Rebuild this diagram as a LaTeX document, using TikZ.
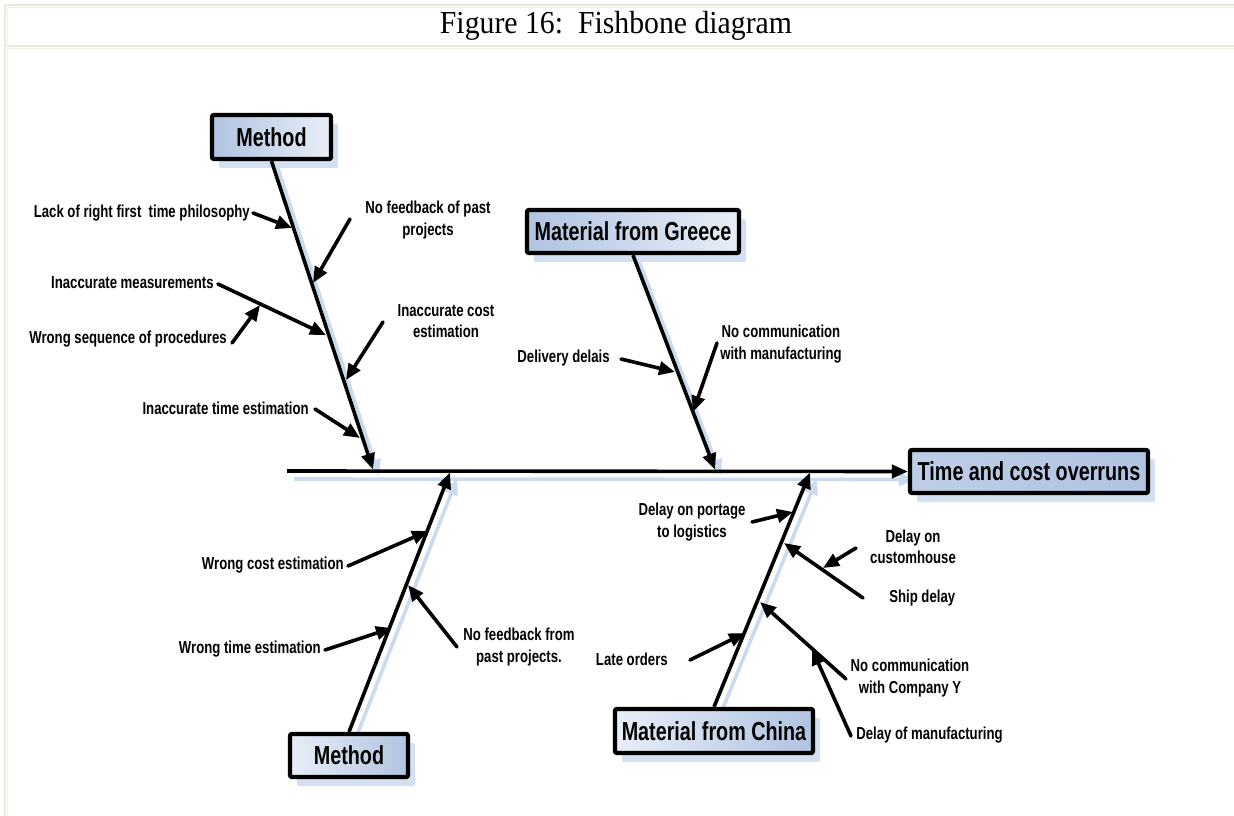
\documentclass[tikz,border=0pt]{standalone}
\usepackage{fontspec}
\setmainfont{Liberation Serif}
\newfontfamily\titlefont[FakeStretch=0.93]{Liberation Serif}
\newfontfamily\lblfont[FakeStretch=0.76]{Liberation Sans}
\usetikzlibrary{arrows.meta,shadows}

\definecolor{framedark}{RGB}{236,233,216}
\definecolor{framelight}{RGB}{242,240,228}
\definecolor{boxdark}{RGB}{176,195,225}
\definecolor{boxlight}{RGB}{232,238,247}
\definecolor{boxshadow}{RGB}{212,223,241}
\definecolor{boneshadow}{RGB}{204,218,240}

\pgfdeclarelayer{background}
\pgfsetlayers{background,main}

\tikzset{
  causebox/.style={draw=black, line width=3.2pt, rounded corners=1.5pt, inner sep=0pt,
    font=\lblfont\bfseries\fontsize{19.5}{23}\selectfont,
    drop shadow={shadow xshift=5.25pt, shadow yshift=-6.75pt, fill=boxshadow, opacity=1}},
  bone/.style={line width=2.7pt, -{Triangle[length=12pt,width=10pt]}},
  boneshade/.style={bone, draw=boneshadow},
  sub/.style={line width=2.7pt, line cap=round, -{Triangle[length=12pt,width=10pt]}},
  lbl/.style={font=\lblfont\bfseries\fontsize{13}{16}\selectfont, inner sep=0pt, align=center},
}

\begin{document}
\begin{tikzpicture}[x=0.75pt,y=-0.75pt]
\useasboundingbox (0,0) rectangle (1234,816);
\clip (0,0) rectangle (1234,816);

% table frame around the figure
\draw[framedark, line width=1.5pt] (5,820) -- (5,5) -- (1240,5);
\draw[framelight, line width=0.75pt] (7.5,45) -- (7.5,7.5) -- (1240,7.5);
\draw[framedark, line width=1.5pt] (7,45.8) -- (1240,45.8);
\draw[framelight, line width=0.75pt] (7.5,820) -- (7.5,48.8) -- (1240,48.8);

\node[font=\titlefont\fontsize{24}{28}\selectfont, inner sep=0pt] (title) at (616,26) {Figure 16:\ \ Fishbone diagram};

% cause and effect boxes
\node[causebox, left color=boxdark, right color=boxlight, minimum width={119*0.75pt}, minimum height={44*0.75pt}] (mTop) at (271.5,137) {Method};
\node[causebox, left color=boxdark, right color=boxlight, minimum width={212*0.75pt}, minimum height={43*0.75pt}] (greece) at (633,231.5) {Material from Greece};
\node[causebox, left color=boxdark!75!boxlight, right color=boxdark, minimum width={238*0.75pt}, minimum height={43*0.75pt}] (effect) at (1029,471.5) {Time and cost overruns};
\node[causebox, left color=boxlight, right color=boxdark, minimum width={118*0.75pt}, minimum height={43*0.75pt}] (mBot) at (349,755.5) {Method};
\node[causebox, left color=boxlight, right color=boxdark, minimum width={198*0.75pt}, minimum height={44*0.75pt}] (china) at (714,731) {Material from China};

% spine and bone ends
\coordinate (spL) at (287,471);
\coordinate (tA) at (373,469.5);
\coordinate (tB) at (715,469.5);
\coordinate (tC) at (450,472.5);
\coordinate (tD) at (810,472.5);

\begin{pgfonlayer}{background}
  \draw[boneshade] ([shift={(7,8)}]spL) -- ([shift={(7,8)}]effect.west);
  \draw[boneshade] ([shift={(6,6)}]mTop.south) -- ([shift={(6,6)}]tA);
  \draw[boneshade] ([shift={(6,6)}]greece.south) -- ([shift={(6,6)}]tB);
  \draw[boneshade] ([shift={(7,6)}]mBot.north) -- ([shift={(7,6)}]tC);
  \draw[boneshade] ([shift={(7,6)}]china.north) -- ([shift={(7,6)}]tD);
\end{pgfonlayer}

\draw[bone] (spL) -- (effect.west);
\draw[bone] (mTop.south) -- (tA);
\draw[bone] (greece.south) -- (tB);
\draw[bone] (mBot.north) -- (tC);
\draw[bone] (china.north) -- (tD);

% Method (upper) causes
\coordinate (lackT) at (253,213);   \coordinate (lackH) at (292,228);
\coordinate (nfbT) at (350,219);    \coordinate (nfbH) at (313,283);
\coordinate (measT) at (218,284);   \coordinate (measH) at (326,335);
\coordinate (seqT) at (232,343);    \coordinate (seqH) at (260,305);
\coordinate (icostT) at (383,322);  \coordinate (icostH) at (346,380);
\coordinate (itimeT) at (315,409);  \coordinate (itimeH) at (360,438);

\node[lbl, anchor=east] (lack) at (250,213) {Lack of right first\ \ time philosophy};
\node[lbl] (nfb) at (428,220) {No feedback of past\\projects};
\node[lbl, anchor=east] (meas) at (214,283) {Inaccurate measurements};
\node[lbl, anchor=east] (seq) at (227,339) {Wrong sequence of procedures};
\node[lbl] (icost) at (446,321) {Inaccurate cost\\estimation};
\node[lbl, anchor=east] (itime) at (309,408) {Inaccurate time estimation};

\draw[sub] (lackT) -- (lackH);
\draw[sub] (nfbT) -- (nfbH);
\draw[sub] (measT) -- (measH);
\draw[sub] (seqT) -- (seqH);
\draw[sub] (icostT) -- (icostH);
\draw[sub] (itimeT) -- (itimeH);

% Material from Greece causes
\coordinate (delT) at (621,359);    \coordinate (delH) at (675,372);
\coordinate (ncmT) at (717,343);    \coordinate (ncmH) at (693,412);

\node[lbl, anchor=east] (del) at (610,358) {Delivery delais};
\node[lbl] (ncm) at (781,344) {No communication\\with manufacturing};

\draw[sub] (delT) -- (delH);
\draw[sub] (ncmT) -- (ncmH);

% Method (lower) causes
\coordinate (wcT) at (348,566);     \coordinate (wcH) at (428,531);
\coordinate (wtT) at (325,650);     \coordinate (wtH) at (392,628);
\coordinate (nfpT) at (457,647);    \coordinate (nfpH) at (408,585);

\node[lbl, anchor=east] (wc) at (344,565) {Wrong cost estimation};
\node[lbl, anchor=east] (wt) at (321,649) {Wrong time estimation};
\node[lbl] (nfp) at (519,647) {No feedback from\\past projects.};

\draw[sub] (wcT) -- (wcH);
\draw[sub] (wtT) -- (wtH);
\draw[sub] (nfpT) -- (nfpH);

% Material from China causes
\coordinate (portT) at (752,522);   \coordinate (portH) at (793,512);
\coordinate (shipT) at (863,598);   \coordinate (shipH) at (784,543);
\coordinate (custT) at (856,548);   \coordinate (custH) at (823,568);
\coordinate (lateT) at (690,660);   \coordinate (lateH) at (745,633);
\coordinate (ncyT) at (846,679);    \coordinate (ncyH) at (760,602);
\coordinate (dmT) at (851,736);     \coordinate (dmH) at (812,649);

\node[lbl] (port) at (692,522) {Delay on portage\\to logistics};
\node[lbl, anchor=west] (ship) at (889,598) {Ship delay};
\node[lbl] (cust) at (913,547) {Delay on\\customhouse};
\node[lbl, anchor=east] (late) at (668,659) {Late orders};
\node[lbl] (ncy) at (910,678) {No communication\\with Company Y};
\node[lbl, anchor=west] (dm) at (856,735) {Delay of manufacturing};

\draw[sub] (portT) -- (portH);
\draw[sub] (shipT) -- (shipH);
\draw[sub] (custT) -- (custH);
\draw[sub] (lateT) -- (lateH);
\draw[sub] (ncyT) -- (ncyH);
\draw[sub] (dmT) -- (dmH);
\end{tikzpicture}
\end{document}
